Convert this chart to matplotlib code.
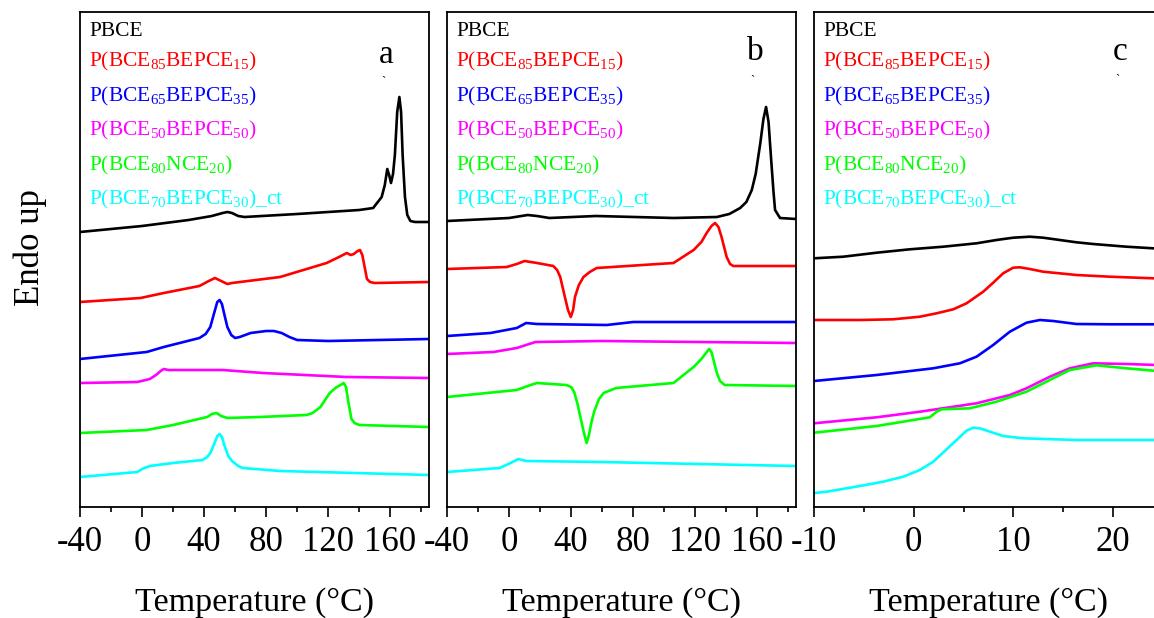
import matplotlib
matplotlib.use("Agg")
import matplotlib.pyplot as plt
from matplotlib.ticker import MultipleLocator

plt.rcParams['font.family'] = ['Liberation Serif', 'DejaVu Serif']
plt.rcParams['mathtext.fontset'] = 'custom'
plt.rcParams['mathtext.rm'] = 'Liberation Serif'
plt.rcParams['mathtext.it'] = 'Liberation Serif:italic'
plt.rcParams['mathtext.bf'] = 'Liberation Serif:bold'
plt.rcParams['axes.unicode_minus'] = False

# ---------------- data ----------------
series_names = ['PBCE',
                r'P(BCE$_{85}$BEPCE$_{15}$)',
                r'P(BCE$_{65}$BEPCE$_{35}$)',
                r'P(BCE$_{50}$BEPCE$_{50}$)',
                r'P(BCE$_{80}$NCE$_{20}$)',
                r'P(BCE$_{70}$BEPCE$_{30}$)_ct']
series_colors = ['#000000', '#FF0000', '#0000FF', '#FF00FF', '#00FF00', '#00FFFF']
panel_letters = ['a', 'b', 'c']

# Panel a (heat flow, arbitrary offset units)
Ta_pbce = [-40, 0, 30, 45, 52, 55, 58, 62, 66, 100, 140, 149, 154.5, 156.5, 158.1, 159.3, 160.5, 161.8,
           163, 164.5, 165.9, 167, 168, 169.5, 171, 173, 176, 185]
Ya_pbce = [275, 281, 287, 291, 294, 295, 294, 291, 290, 293, 297, 299, 310, 322, 338, 332, 324, 333,
           352, 395, 410, 395, 352, 310, 292, 286, 285, 285]
Ta_85 = [-40, -1, 14, 37, 43, 47, 51, 55, 58, 89, 119, 127, 132, 134.5, 136.5, 139, 140.5, 142, 143.5, 145, 147, 150, 185]
Ya_85 = [205, 209, 214, 221, 226, 229, 226, 223, 224, 230, 244, 250, 254, 252, 253, 256, 257, 252, 240, 228, 225, 224, 225]
Ta_65 = [-40, 3, 14, 37, 41, 44, 46.5, 48.5, 50, 51.5, 53, 55, 57.5, 60, 63, 70, 80, 85, 90, 95, 100, 120, 185]
Ya_65 = [148, 155, 160, 169, 173, 180, 194, 205, 207, 203, 193, 180, 172, 169, 170, 174, 176, 176, 174, 170, 167, 166, 168]
Ta_50 = [-40, -3, 5, 9, 12, 14, 17, 52, 78, 132, 185]
Ya_50 = [124, 125, 128, 132, 136, 138, 137, 137, 134, 130, 129]
Ta_nce = [-40, 3, 20, 42, 45, 48, 51, 55, 76, 106, 110, 115, 121, 125.5, 128, 130, 131.5, 133, 135, 137, 140, 185]
Ya_nce = [74, 77, 82, 90, 93, 94, 91, 89, 90, 92, 94, 100, 114, 120, 122, 124, 120, 105, 88, 84, 82, 80]
Ta_ct = [-40, -3, 0, 5, 20, 39, 42, 44, 46.5, 48.5, 50, 51.5, 53, 55.6, 58, 62, 65, 89, 185]
Ya_ct = [30, 35, 38, 41, 44, 47, 50, 54, 63, 71, 73, 70, 62, 51, 46, 41, 39, 36, 32]

# Panel b
Tb_pbce = [-40, 0, 8, 12, 18, 26, 56, 106, 134, 142, 149, 153, 156.5, 159, 162, 164, 165.7, 167.3, 169, 170.5, 171.5, 174.7, 185]
Yb_pbce = [286, 289, 291, 292, 291, 289, 291, 289, 290, 293, 299, 305, 317, 333, 364, 388, 400, 385, 347, 315, 297, 289, 288]
Tb_85 = [-40, -1.5, 5, 10, 14, 18, 28.5, 31, 33, 36, 38, 39.8, 41.3, 42.5, 45, 48, 52, 56.5, 106, 119, 124, 127.4,
         130.5, 132.8, 135, 137, 140.3, 142.5, 144.6, 185]
Yb_85 = [238, 240, 243, 246, 245, 244, 241, 237, 230, 210, 197, 190, 197, 210, 222, 230, 235, 239, 244, 257, 265, 274,
         281, 284, 280, 270, 250, 243, 241, 241]
Tb_65 = [-40, -12, 5, 11, 18, 63, 80, 185]
Yb_65 = [171, 174, 179, 184, 183, 182, 185, 185]
Tb_50 = [-40, -10, 5, 11, 17, 60, 185]
Yb_50 = [153, 155, 159, 162, 165, 166, 164]
Tb_nce = [-40, 5, 12, 18, 37, 40, 42, 44, 46, 48, 50, 51.5, 53, 55, 58, 61, 69, 106, 119, 124, 127, 129, 130.5,
          132.5, 134, 136, 139, 185]
Yb_nce = [110, 117, 121, 124, 122, 120, 115, 104, 90, 76, 64, 72, 84, 96, 108, 114, 119, 124, 140, 148, 154, 158, 155,
          143, 134, 126, 122, 121]
Tb_ct = [-40, -6, 1, 6, 11, 59, 185]
Yb_ct = [35, 39, 44, 48, 46, 45, 41]

# Panel c
Tc_pbce = [-10, -7.06, -3.72, -0.38, 2.96, 6.3, 8.3, 9.97, 11.64, 12.98, 14.65, 16.32, 17.99, 21.33, 24, 25]
Yc_pbce = [248.7, 250.3, 254.3, 257.7, 260.3, 263.7, 267, 269.3, 270.3, 269.3, 267, 264.7, 263, 260.3, 258.7, 258.3]
Tc_85 = [-10, -5.39, -2.05, 0.62, 2.3, 3.97, 5.3, 6.97, 7.97, 8.97, 9.97, 10.64, 11.64, 12.98, 16.32, 19.66, 24, 25]
Yc_85 = [187, 187, 187.7, 190.3, 193.7, 197.7, 203.7, 215.3, 224.3, 233.7, 239.3, 239.7, 238, 235.3, 232, 230.3, 228.7, 228.3]
Tc_65 = [-10, -3.72, 1.96, 4.63, 6.3, 7.97, 9.64, 11.31, 12.65, 13.98, 16.32, 19.66, 25]
Yc_65 = [126, 132, 138.7, 143.7, 150.3, 162, 175.3, 184.3, 187, 186, 183, 182.7, 182.7]
Tc_50 = [-10, -3.72, 0.62, 6.3, 9.64, 11.31, 13.65, 15.65, 17.99, 21.33, 25]
Yc_50 = [83.7, 89.7, 95.3, 103.7, 112, 118.7, 130.3, 138.7, 143.7, 143, 141.8]
Tc_nce = [-10, -3.72, 1.62, 2.3, 2.8, 5.63, 8.3, 11.31, 13.65, 15.65, 18.32, 21.33, 25]
Yc_nce = [74.3, 81, 89.7, 95.3, 97.7, 98.7, 105.3, 115.3, 127, 137, 141.7, 138.7, 135.5]
Tc_ct = [-10, -8.73, -5.39, -3.06, -1.05, 0.62, 1.96, 3.3, 4.3, 5.3, 5.96, 6.63, 7.64, 8.97, 10.97, 16.3, 25]
Yc_ct = [14, 15.3, 21, 25.3, 30.3, 37, 45.3, 57.7, 67, 76.3, 79.3, 78.7, 75.3, 71, 68.7, 67, 67]

panel_a = [(Ta_pbce, Ya_pbce), (Ta_85, Ya_85), (Ta_65, Ya_65), (Ta_50, Ya_50), (Ta_nce, Ya_nce), (Ta_ct, Ya_ct)]
panel_b = [(Tb_pbce, Yb_pbce), (Tb_85, Yb_85), (Tb_65, Yb_65), (Tb_50, Yb_50), (Tb_nce, Yb_nce), (Tb_ct, Yb_ct)]
panel_c = [(Tc_pbce, Yc_pbce), (Tc_85, Yc_85), (Tc_65, Yc_65), (Tc_50, Yc_50), (Tc_nce, Yc_nce), (Tc_ct, Yc_ct)]

xticks_ab = [-40, 0, 40, 80, 120, 160]
xticks_c = [-10, 0, 10, 20]

# ---------------- figure ----------------
W, H = 1154, 618
fig = plt.figure(figsize=(W / 100, H / 100), dpi=100)

def px_rect(x0, x1, ytop, ybot):
    return [x0 / W, 1 - ybot / H, (x1 - x0) / W, (ybot - ytop) / H]

ytop, ybot = 12, 507
axes_px = [(80, 429), (447, 796), (814, 1163)]
panels = [panel_a, panel_b, panel_c]
xlims = [(-40, 185), (-40, 185), (-10, 25)]
xticks_all = [xticks_ab, xticks_ab, xticks_c]
minors = [20, 20, 5]
letter_px = [(386, 63), (755, 60), (1120, 60)]
tick_px = [(383, 82), (752, 81), (1117, 80)]

for i in range(3):
    ax = fig.add_axes(px_rect(axes_px[i][0], axes_px[i][1], ytop, ybot))
    for (t, y), c in zip(panels[i], series_colors):
        ax.plot(t, y, color=c, lw=1.9, solid_joinstyle='round', solid_capstyle='round')
    ax.set_xlim(*xlims[i])
    ax.set_ylim(0, 495)
    ax.set_yticks([])
    ax.set_xticks(xticks_all[i])
    ax.xaxis.set_minor_locator(MultipleLocator(minors[i]))
    ax.tick_params(axis='x', which='major', direction='out', length=7.5, width=1.2,
                   labelsize=25, pad=6)
    ax.tick_params(axis='x', which='minor', direction='out', length=3.8, width=1.2)
    for s in ax.spines.values():
        s.set_linewidth(1.3)
    ax.set_xlabel('Temperature (°C)', fontsize=24.5)
    ax.xaxis.set_label_coords(0.5, -0.163)
    # legend-like labels
    x0 = axes_px[i][0] + 9
    baselines = [36, 66, 101, 135.5, 170, 204.5]
    for name, c, yb in zip(series_names, series_colors, baselines):
        fig.text(x0 / W, 1 - yb / H, name, color=c, fontsize=15.5, ha='left', va='baseline')
    lx, ly = letter_px[i]
    fig.text(lx / W, 1 - ly / H, panel_letters[i], fontsize=24, ha='center', va='baseline')
    tx, ty = tick_px[i]
    fig.text(tx / W, 1 - ty / H, '`', fontsize=9, ha='center', va='center')

fig.text(30 / W, 1 - 247.5 / H, 'Endo up', fontsize=25, rotation=90, ha='center', va='center')

fig.savefig('out.png', dpi=100)
